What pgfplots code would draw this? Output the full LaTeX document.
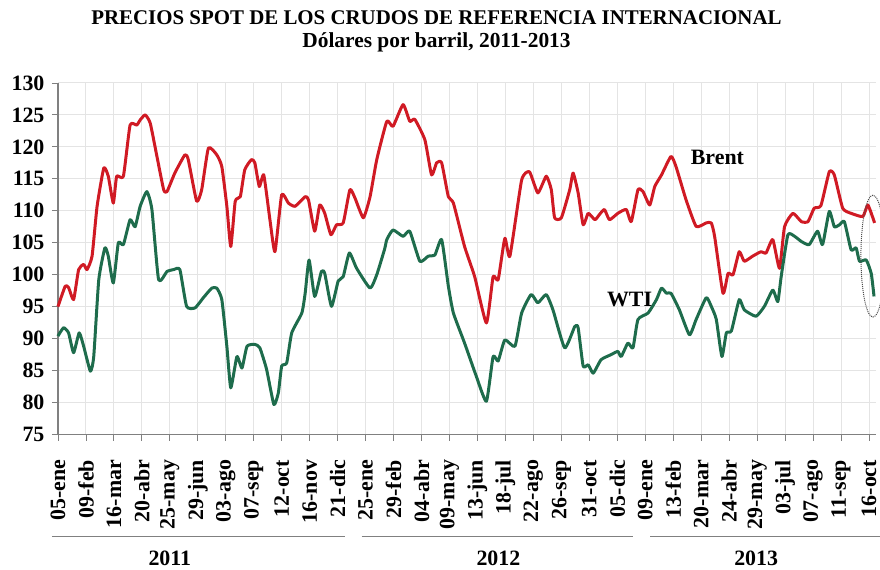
\documentclass[border=0pt]{standalone}
\usepackage{pgfplots}
\pgfplotsset{compat=1.18}
\usepackage{fontspec}
\setmainfont{Liberation Serif}
\definecolor{brent}{RGB}{208,26,36}
\definecolor{wti}{RGB}{30,108,76}
\definecolor{gridc}{RGB}{228,228,228}
\newcommand{\bigbf}{\bfseries\fontsize{22}{24}\selectfont}
\begin{document}
\begin{tikzpicture}
\useasboundingbox (3bp,0) rectangle (884bp,-570bp);
\node[anchor=base, font=\bfseries\fontsize{21}{24}\selectfont] at (440bp,-25bp) {PRECIOS SPOT DE LOS CRUDOS DE REFERENCIA INTERNACIONAL};
\node[anchor=base, font=\bfseries\fontsize{21.5}{24}\selectfont] at (440bp,-48bp) {Dólares por barril, 2011-2013};
\begin{axis}[
    at={(61bp,-435bp)}, anchor=south west,
    scale only axis, width=818.7bp, height=352bp,
    xmin=0, xmax=146.2, ymin=75, ymax=130,
    xtick={0,5,...,145},
    xticklabels={05-ene,09-feb,16-mar,20-abr,25-may,29-jun,03-ago,07-sep,12-oct,16-nov,21-dic,
                 25-ene,29-feb,04-abr,09-may,13-jun,18-jul,22-ago,26-sep,31-oct,05-dic,
                 09-ene,13-feb,20-mar,24-abr,29-may,03-jul,07-ago,11-sep,16-oct},
    ytick={75,80,...,130},
    /pgf/number format/assume math mode=true,
    tick label style={font=\bigbf},
    xticklabel style={yshift=-16bp, rotate=90, anchor=east},
    yticklabel style={xshift=-4bp},
    axis x line*=bottom, axis y line*=left,
    axis line style={gray, line width=1.2bp},
    tick style={gray, line width=0.8bp},
    tick align=outside, major tick length=6bp,
    grid=major, major grid style={gridc, line width=1bp},
    clip=false,
]

% Brent
\addplot[brent, line width=3bp, smooth, tension=0.3, line join=round] coordinates {
(0,95.0) (1.3,98.2) (1.9,98.0) (2.8,96.1) (3.7,100.8) (4.6,101.6) (5.2,100.8) (6.1,102.9)
(7.0,110.7) (8.2,116.7) (9.0,115.4) (9.9,111.2) (10.5,115.4) (11.7,115.4) (12.9,123.4)
(14.1,123.4) (14.7,124.2) (15.6,125.0) (16.5,123.7) (17.7,118.5) (18.9,113.3) (19.5,113.0)
(20.9,115.9) (22.7,118.75) (23.3,118.0) (24.8,111.5) (25.7,113.3) (26.9,119.8) (28.4,118.75)
(29.3,116.9) (30.2,110.7) (30.9,104.4) (31.7,111.5) (32.6,112.2) (33.4,116.4) (34.6,118.0)
(35.2,117.5) (36.0,113.8) (36.8,115.6) (37.9,108.6) (38.8,103.6) (40.0,112.5) (41.2,111.2)
(42.4,110.7) (44.2,112.2) (44.8,111.7) (45.9,106.8) (46.8,110.9) (47.7,109.6) (48.8,106.25)
(49.8,107.8) (51.0,108.1) (52.2,113.3) (53.1,112.0) (54.6,108.9) (55.8,112.2) (57.0,118.0)
(58.8,124.0) (59.9,123.2) (61.7,126.6) (62.9,124.0) (63.8,124.3) (65.6,121.1) (66.8,115.6)
(67.7,117.5) (68.6,117.5) (69.8,112.2) (70.7,111.2) (72.7,104.4) (74.5,99.7) (76.6,92.45)
(77.8,99.7) (78.7,99.2) (79.9,105.7) (80.8,102.9) (82.9,114.8) (84.3,116.1) (85.8,112.8)
(87.3,115.4) (88.2,113.3) (88.8,108.9) (90.0,108.9) (91.5,113.3) (92.1,115.9) (93.0,112.8)
(93.9,107.8) (94.8,109.6) (96.0,108.6) (96.8,109.4) (97.7,110.2) (98.6,108.6) (100.1,109.6)
(101.6,110.2) (102.5,108.3) (103.7,113.3) (104.6,113.0) (105.8,110.9) (106.7,113.8)
(107.9,115.6) (109.6,118.5) (110.5,116.9) (112.3,111.7) (114.1,107.55) (115.9,108.1)
(116.8,108.1) (117.4,106.0) (118.9,97.1) (119.8,100.2) (120.7,100.0) (121.8,103.6)
(122.7,102.1) (124.2,102.9) (125.7,103.6) (126.6,103.4) (127.8,105.5) (129.0,101.0)
(129.9,107.5) (131.4,109.6) (132.9,108.3) (134.1,108.3) (135.2,110.4) (136.4,110.8)
(137.9,116.1) (138.8,115.6) (140.3,110.4) (141.8,109.6) (143.9,109.1) (144.8,110.9) (146.0,108.1)
};

% WTI
\addplot[wti, line width=3bp, smooth, tension=0.3, line join=round] coordinates {
(0,90.4) (1.0,91.7) (1.9,90.9) (2.8,87.8) (3.8,90.9) (4.6,88.8) (5.8,84.9) (6.4,87.2)
(7.3,99.2) (8.4,104.2) (9.0,102.9) (9.9,98.7) (10.8,105.0) (11.7,104.7) (12.9,108.6)
(13.8,107.5) (14.7,110.7) (15.9,113.0) (16.8,110.2) (18.0,99.2) (19.5,100.5) (20.7,100.8)
(21.8,100.8) (23.0,95.05) (24.5,94.8) (26.0,96.4) (27.5,97.9) (28.4,97.9) (29.3,96.1)
(30.2,88.8) (30.9,82.3) (32.0,87.2) (32.9,85.4) (33.8,88.8) (35.2,89.1) (36.1,88.55)
(37.3,85.2) (38.6,79.7) (39.4,81.5) (40.0,85.7) (40.9,86.2) (41.8,90.9) (43.6,94.0)
(44.2,97.1) (44.9,102.3) (45.9,96.6) (47.1,100.5) (47.7,100.2) (48.9,95.05) (50.1,99.0)
(51.0,99.7) (52.1,103.4) (53.4,101.0) (55.8,97.9) (57.0,100.0) (58.4,104.0) (58.8,105.5)
(59.9,107.0) (61.7,106.0) (62.9,106.8) (64.7,102.1) (66.2,102.9) (67.4,103.1) (68.6,105.5)
(69.8,98.2) (70.7,94.0) (72.7,89.3) (74.8,84.1) (76.6,80.2) (77.8,87.2) (78.7,86.5)
(79.9,89.8) (81.7,88.8) (82.9,94.0) (84.6,96.9) (85.8,95.6) (87.3,96.9) (88.5,94.5)
(90.6,88.55) (92.4,91.9) (93.0,91.7) (93.9,85.7) (94.8,85.9) (95.7,84.6) (97.1,86.7)
(98.9,87.5) (100.1,88.0) (100.7,87.2) (101.9,89.3) (102.8,88.55) (103.7,93.0) (105.5,94.0)
(107.0,96.1) (107.9,97.9) (108.8,97.1) (109.6,97.1) (111.1,94.5) (112.9,90.6) (114.1,93.0)
(115.9,96.4) (116.8,95.05) (117.7,93.0) (118.7,87.2) (119.5,90.9) (120.4,91.2) (121.8,96.1)
(122.7,94.5) (124.8,93.5) (126.3,95.05) (127.8,97.6) (128.7,95.8) (129.3,99.7) (130.5,106.25)
(131.7,106.0) (132.9,105.2) (134.3,104.7) (135.8,106.8) (136.7,104.7) (137.9,109.9)
(138.8,107.5) (139.7,107.8) (140.6,108.3) (141.8,103.9) (142.7,104.2) (143.3,102.1)
(144.5,102.3) (145.4,100.2) (145.9,96.6)
};

\node[anchor=base, font=\bigbf] at (axis cs:117.9,117.2) {Brent};
\node[anchor=base, font=\bigbf] at (axis cs:102.2,95.0) {WTI};
\draw[densely dotted, gray!60!black, line width=1bp] (axis cs:145.7,102.9) ellipse[x radius=12bp, y radius=61bp];
\end{axis}

% year bands
\draw[gray, line width=1.5bp] (55bp,-537bp) -- (348bp,-537bp);
\draw[gray, line width=1.5bp] (365bp,-537bp) -- (637bp,-537bp);
\draw[gray, line width=1.5bp] (654bp,-537bp) -- (884bp,-537bp);
\node[anchor=base, font=\bigbf] at (173bp,-566bp) {2011};
\node[anchor=base, font=\bigbf] at (502bp,-566bp) {2012};
\node[anchor=base, font=\bigbf] at (760bp,-566bp) {2013};
\end{tikzpicture}
\end{document}
